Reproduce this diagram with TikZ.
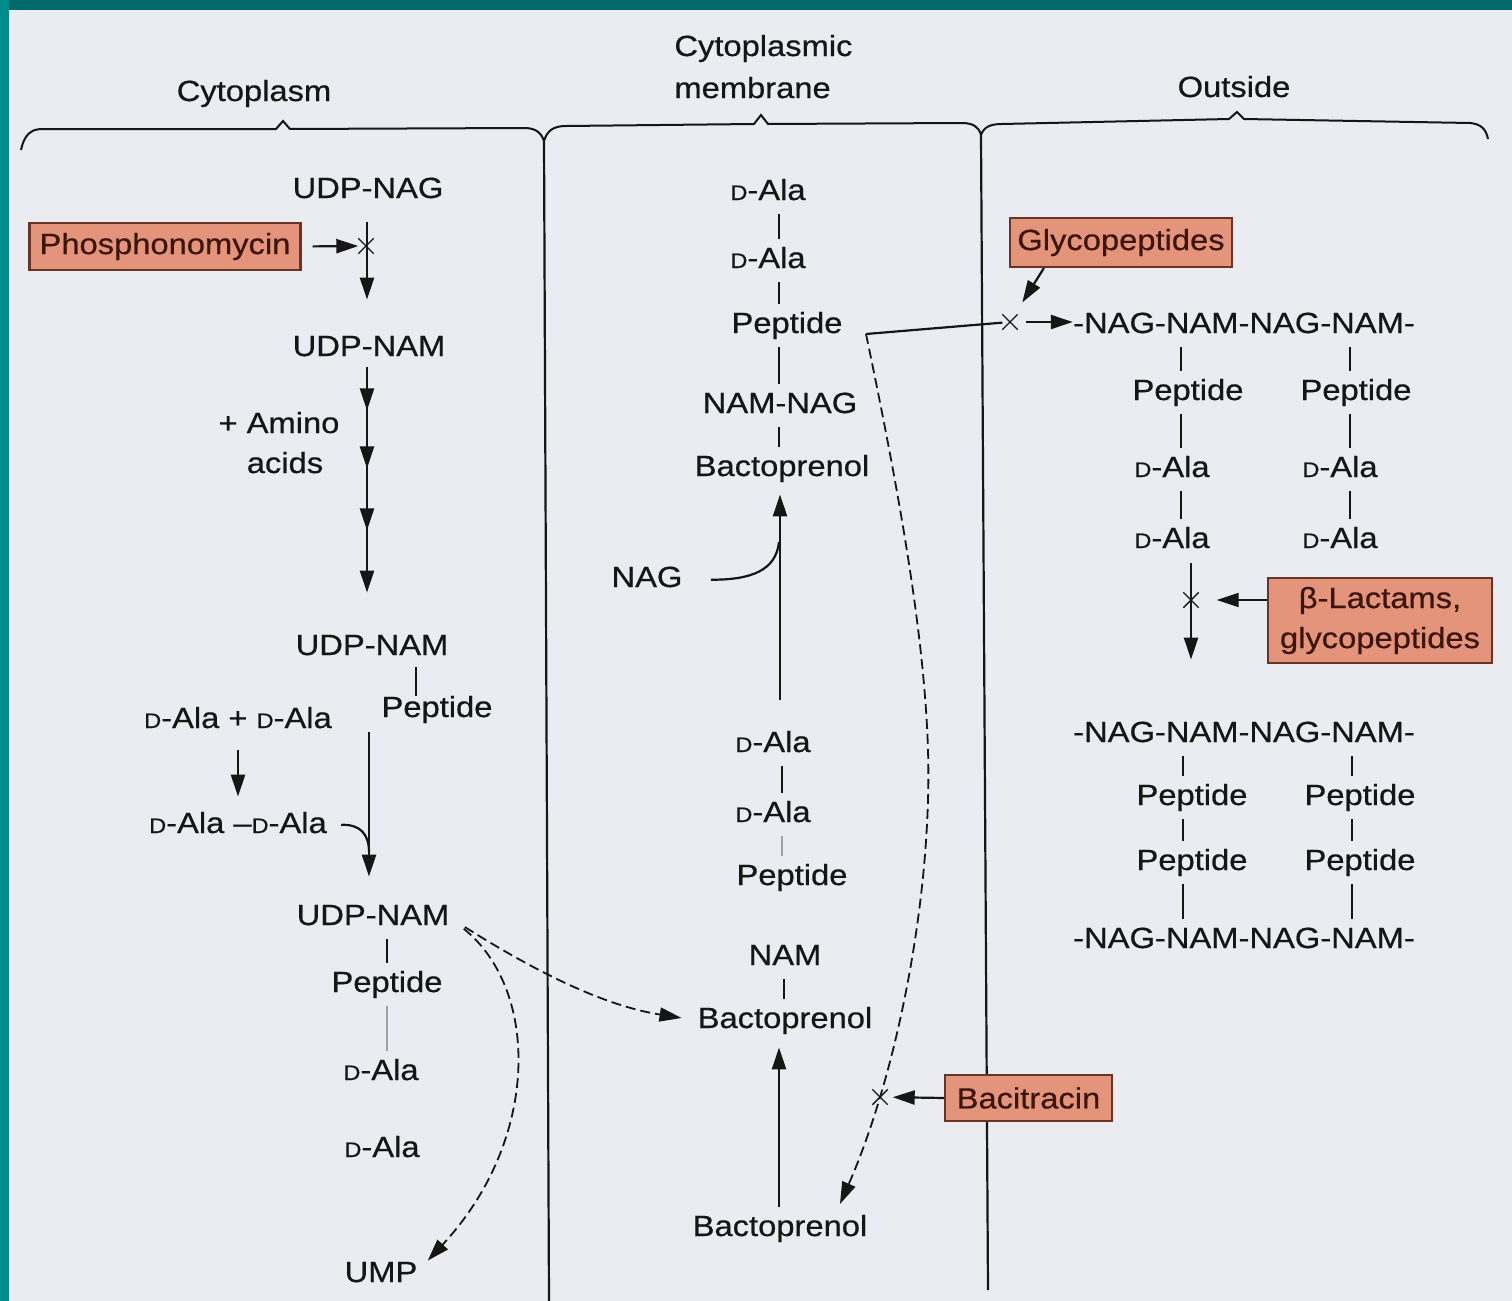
\documentclass[tikz,border=0pt]{standalone}
\usepackage{fontspec}
\setmainfont{Liberation Sans}[FakeStretch=1.12,FakeBold=0.6]
\usetikzlibrary{arrows.meta,shapes.misc,decorations.markings}
\definecolor{paper}{RGB}{234,236,241}
\definecolor{tealtop}{RGB}{0,106,106}
\definecolor{tealleft}{RGB}{0,140,140}
\definecolor{boxfill}{RGB}{228,148,122}
\definecolor{boxline}{RGB}{105,52,38}
\definecolor{boxtext}{RGB}{60,22,12}
\definecolor{ink}{RGB}{22,22,22}
\newcommand{\Dsc}{{\fontsize{10.5}{12}\selectfont D}}
\newcommand{\mainfs}{\fontsize{14.6}{20}\selectfont}
\begin{document}
\begin{tikzpicture}[x=0.5pt,y=-0.5pt,
 lbl/.style={inner sep=0pt, text height=10.5pt, text depth=3pt, font=\mainfs, text=ink, anchor=base},
 drug/.style={draw=boxline, line width=1.1pt, fill=boxfill, inner sep=0pt, font=\mainfs, text=boxtext},
 ln/.style={line width=1.1pt, draw=ink},
 tipstyle/.style={-{Triangle[length=11pt,width=7pt]}},
 arr/.style={ln, tipstyle},
 bond/.style={line width=1pt, draw=ink, shorten <=4pt, shorten >=4pt},
 faint/.style={bond, draw=ink!40},
 dsh/.style={line width=0.9pt, draw=ink, dash pattern=on 5pt off 2.5pt},
 darr/.style={dsh, tipstyle},
 xmark/.style={cross out, draw=ink, line width=0.7pt, minimum size=7pt, inner sep=0pt},
 divider/.style={line width=1.1pt, draw=ink},
 brace/.style={line width=1pt, draw=ink},
]
% background
\fill[paper] (0,0) rectangle (1512,1301);
\fill[tealtop] (0,0) rectangle (1512,10);
\fill[tealleft] (0,0) rectangle (9,1301);
\useasboundingbox (0,0) rectangle (1512,1301);

% braces
\draw[brace] (21,150) .. controls (24,136) and (30,129) .. (42,129) -- (276,129) -- (283,121) -- (290,129) -- (524,128) .. controls (535,128) and (541,132) .. (544,141);
\draw[brace] (544,141) .. controls (547,131) and (553,126) .. (566,126) -- (754,124) -- (761,115) -- (768,124) -- (962,123) .. controls (973,123) and (979,127) .. (981,135);
\draw[brace] (981,135) .. controls (984,127) and (990,124) .. (1002,124) -- (1229,119) -- (1237,112) -- (1244,119) -- (1470,123) .. controls (1481,124) and (1486,129) .. (1488,139);

% dividers
\draw[divider] (544,141) -- (549,1301);
\draw[divider] (981,135) -- (988,1290);

% headers
\node[lbl] (hcyt) at (254,101) {Cytoplasm};
\node[lbl, anchor=base west] (hmem1) at (674,56) {Cytoplasmic};
\node[lbl, anchor=base west] (hmem2) at (674,98) {membrane};
\node[lbl] (hout) at (1234,97) {Outside};

% helper x positions
\coordinate (cL0) at (367,0);
\coordinate (cL1) at (369,0);
\coordinate (b416) at (416,0);
\coordinate (b387) at (387,0);
\coordinate (bM) at (779,0);
\coordinate (bM2) at (782,0);
\coordinate (bM3) at (784,0);
\coordinate (cB) at (779,0);
\coordinate (bRa) at (1181,0);
\coordinate (bRb) at (1350,0);
\coordinate (bRc) at (1183,0);
\coordinate (bRd) at (1352,0);
\coordinate (cR) at (1191,0);

% ---------- cytoplasm ----------
\node[lbl] (udpnag) at (368,198) {UDP-NAG};
\node[drug, minimum width=135.5pt, minimum height=23.5pt] (phos) at (165,246.5) {Phosphonomycin};
\node[xmark] (x1) at (366,246) {};
\node[lbl] (udpnam1) at (369,356) {UDP-NAM};
\node[lbl] (amino) at (279,433) {+ Amino};
\node[lbl] (acids) at (285,473) {acids};
\node[lbl] (udpnam2) at (372,655) {UDP-NAM};
\node[lbl] (pepL1) at (437,717) {Peptide};
\node[lbl] (ddplus) at (238,728) {\Dsc-Ala + \Dsc-Ala};
\node[lbl] (ddl) at (238,833) {\Dsc-Ala –\Dsc-Ala};
\node[lbl] (udpnam3) at (373,925) {UDP-NAM};
\node[lbl] (pepL2) at (387,992) {Peptide};
\node[lbl] (daL1) at (381,1080) {\Dsc-Ala};
\node[lbl] (daL2) at (382,1157) {\Dsc-Ala};
\node[lbl] (ump) at (381,1282) {UMP};

\draw[arr, shorten <=9pt, shorten >=17.5pt] (udpnag.south -| cL0) -- (udpnam1.north -| cL0);
\draw[arr, shorten <=5.5pt] (phos.east) -- (x1.west);
\draw[arr, shorten <=2.5pt, shorten >=20.5pt,
  postaction={decorate},
  decoration={markings,
    mark=at position 24pt with {\arrow{Triangle[length=11pt,width=7pt]}},
    mark=at position 53pt with {\arrow{Triangle[length=11pt,width=7pt]}},
    mark=at position 84pt with {\arrow{Triangle[length=11pt,width=7pt]}}}]
  (udpnam1.south -| cL0) -- (udpnam2.north -| cL0);
\draw[bond, shorten <=3pt, shorten >=0pt] (udpnam2.south -| b416) -- (pepL1.north -| b416);
\draw[arr, shorten <=8pt, shorten >=7.5pt] (ddplus.south) -- (ddl.north);
\draw[arr, shorten <=4.5pt, shorten >=13.5pt] (pepL1.south -| cL1) -- (udpnam3.north -| cL1);
\coordinate (jL) at (369,852);
\draw[ln, shorten <=7pt] (ddl.east) .. controls (360,824) and (369,834) .. (jL);
\draw[bond] (udpnam3.south -| b387) -- (pepL2.north -| b387);
\draw[faint] (pepL2.south -| b387) -- (daL1.north -| b387);

% ---------- membrane ----------
\node[lbl] (daM1) at (768,200) {\Dsc-Ala};
\node[lbl] (daM2) at (768,268) {\Dsc-Ala};
\node[lbl] (pepM1) at (787,333) {Peptide};
\node[lbl] (namnag) at (780,413) {NAM-NAG};
\node[lbl] (bp1) at (782,476) {Bactoprenol};
\node[lbl] (nag) at (647,587) {NAG};
\node[lbl] (daM3) at (773,752) {\Dsc-Ala};
\node[lbl] (daM4) at (773,822) {\Dsc-Ala};
\node[lbl] (pepM2) at (792,885) {Peptide};
\node[lbl] (nam) at (785,965) {NAM};
\node[lbl] (bp2) at (785,1028) {Bactoprenol};
\node[lbl] (bp3) at (780,1236) {Bactoprenol};

% dashed curves from UDP-NAM
\draw[darr, shorten <=9pt, shorten >=8pt] (udpnam3.east) .. controls (530,968) and (600,1005) .. (bp2.west);
\draw[darr, shorten <=9pt] (udpnam3.east) .. controls (540,990) and (540,1140) .. ([xshift=5pt]ump.north east);

\draw[bond] (daM1.south -| bM) -- (daM2.north -| bM);
\draw[bond] (daM2.south -| bM) -- (pepM1.north -| bM);
\draw[bond] (pepM1.south -| bM) -- (namnag.north -| bM);
\draw[bond] (namnag.south -| bM) -- (bp1.north -| bM);
\draw[bond] (daM3.south -| bM2) -- (daM4.north -| bM2);
\draw[faint] (daM4.south -| bM2) -- (pepM2.north -| bM2);
\draw[bond] (nam.south -| bM3) -- (bp2.north -| bM3);

\coordinate (vb) at (780,700);
\draw[arr, shorten >=6pt] (vb) -- (bp1.south -| vb);
\coordinate (jM) at (779,542);
\draw[ln, shorten <=14pt] (nag.east) .. controls (752,580) and (776,570) .. (jM);
\draw[arr, shorten <=4pt, shorten >=6.5pt] (bp3.north -| cB) -- (bp2.south -| cB);

% peptide transfer and cycle
\node[xmark] (x2) at (1010,322) {};
\node[xmark] (x3) at (880,1097) {};
\coordinate (pc) at (866,334);
\coordinate (bp3tip) at (840,1204);
\draw[ln] (pc) -- (x2);
\draw[darr] (pc) .. controls (905,520) and (932,680) .. (928,800) .. controls (924,940) and (890,1090) .. (bp3tip);

\node[drug, minimum width=83.5pt, minimum height=23pt] (bac) at (1028.5,1098) {Bacitracin};
\draw[arr, shorten >=2.5pt] (bac.west) -- (x3);

% ---------- outside ----------
\node[drug, minimum width=111pt, minimum height=24.5pt] (glyco) at (1121,242.5) {Glycopeptides};
\node[lbl] (nag1) at (1244,333) {-NAG-NAM-NAG-NAM-};
\node[lbl] (pR1a) at (1188,400) {Peptide};
\node[lbl] (pR1b) at (1356,400) {Peptide};
\node[lbl] (dR1a) at (1172,477) {\Dsc-Ala};
\node[lbl] (dR1b) at (1340,477) {\Dsc-Ala};
\node[lbl] (dR2a) at (1172,548) {\Dsc-Ala};
\node[lbl] (dR2b) at (1340,548) {\Dsc-Ala};
\node[xmark] (x4) at (1191,600) {};
\node[drug, align=center, minimum width=112pt, minimum height=42.5pt] (blac) at (1380,620.5) {β-Lactams,\\glycopeptides};
\node[lbl] (nag2) at (1244,742) {-NAG-NAM-NAG-NAM-};
\node[lbl] (pR2a) at (1192,805) {Peptide};
\node[lbl] (pR2b) at (1360,805) {Peptide};
\node[lbl] (pR3a) at (1192,870) {Peptide};
\node[lbl] (pR3b) at (1360,870) {Peptide};
\node[lbl] (nag3) at (1244,948) {-NAG-NAM-NAG-NAM-};

\draw[arr, shorten >=7pt] ([xshift=17.5pt]glyco.south west) -- (x2);
\draw[arr, shorten <=4pt] (x2) -- (nag1.west |- x2);

\draw[bond] (nag1.south -| bRa) -- (pR1a.north -| bRa);
\draw[bond] (pR1a.south -| bRa) -- (dR1a.north -| bRa);
\draw[bond] (dR1a.south -| bRa) -- (dR2a.north -| bRa);
\draw[bond] (nag1.south -| bRb) -- (pR1b.north -| bRb);
\draw[bond] (pR1b.south -| bRb) -- (dR1b.north -| bRb);
\draw[bond] (dR1b.south -| bRb) -- (dR2b.north -| bRb);

\draw[arr, shorten <=4.5pt, shorten >=30.5pt] (dR2a.south -| cR) -- (nag2.north -| cR);
\draw[arr, shorten >=9pt] (blac.west |- x4) -- (x4);

\draw[bond] (nag2.south -| bRc) -- (pR2a.north -| bRc);
\draw[bond] (pR2a.south -| bRc) -- (pR3a.north -| bRc);
\draw[bond] (pR3a.south -| bRc) -- (nag3.north -| bRc);
\draw[bond] (nag2.south -| bRd) -- (pR2b.north -| bRd);
\draw[bond] (pR2b.south -| bRd) -- (pR3b.north -| bRd);
\draw[bond] (pR3b.south -| bRd) -- (nag3.north -| bRd);
\end{tikzpicture}
\end{document}
